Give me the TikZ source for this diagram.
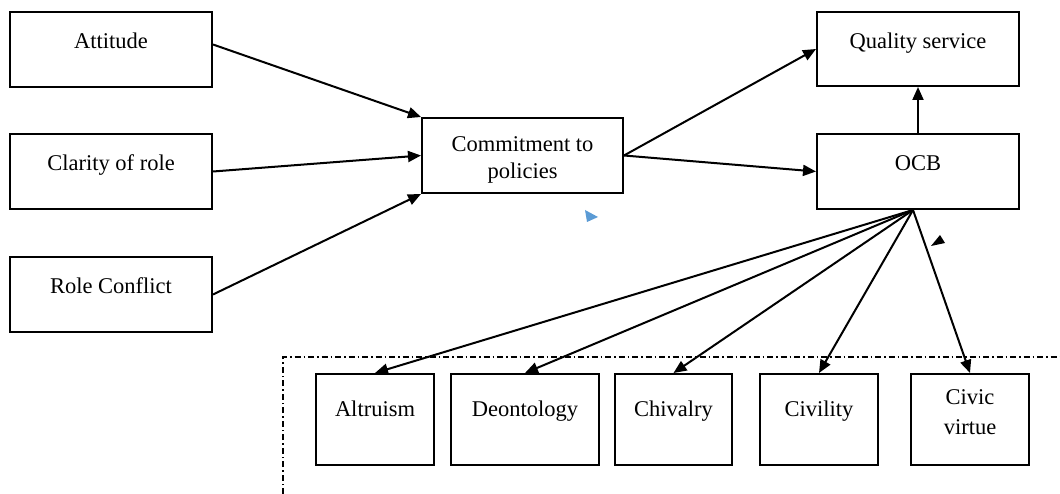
\documentclass[tikz,border=0pt]{standalone}
\usepackage{fontspec}
\setmainfont{Liberation Serif}
\usetikzlibrary{arrows.meta}
\definecolor{markblue}{RGB}{91,155,213}
\tikzset{
  box/.style={draw,line width=2pt,inner sep=0pt,minimum width=202pt,minimum height=75pt},
  leaf/.style={box,minimum width=118pt,minimum height=91pt},
  high/.style={text height=15pt,text depth=16pt},
  higher/.style={text height=15pt,text depth=22pt},
  link/.style={line width=2pt,-{Triangle[length=13pt,width=11pt]}},
}
\begin{document}
\begin{tikzpicture}[x=1pt,y=-1pt,font=\fontsize{22.5}{27}\selectfont]
\useasboundingbox (0,0) rectangle (1060,494);
\node[box,high](att) at (111,49.5){Attitude};
\node[box,high](clar) at (111,171.5){Clarity of role};
\node[box,high](conf) at (111,294.5){Role Conflict};
\node[box,minimum width=201pt,align=center,text height=47pt,text depth=0pt](comm) at (522.5,155.5){Commitment to\\policies};
\node[box,high,minimum height=74pt](qual) at (918,49){Quality service};
\node[box,high](ocb) at (918,171.5){OCB};
\node[leaf,higher](alt) at (375,419.5){Altruism};
\node[leaf,higher,minimum width=148pt](deon) at (525,419.5){Deontology};
\node[leaf,higher,minimum width=117pt](chiv) at (673.5,419.5){Chivalry};
\node[leaf,higher](civil) at (819,419.5){Civility};
\node[leaf,align=center,text height=45pt,text depth=16pt](civic) at (970,419.5){Civic\\[3pt]virtue};
\draw[link]([yshift=5pt]att.east)--(comm.north west);
\draw[link](clar.east)--(comm.west);
\draw[link](conf.east)--(comm.south west);
\draw[link](comm.east)--(qual.west);
\draw[link](comm.east)--(ocb.west);
\draw[link](ocb.north)--(qual.south);
\foreach \leafname in {alt,deon,chiv,civil,civic}
  \draw[link]([xshift=-5pt]ocb.south)--(\leafname.north);
\draw[line width=1.2pt,dash pattern=on 6pt off 3pt on 1.5pt off 3pt](283,494)--(283,357)--(1060,357);
\fill[markblue](585,210)--(598,217)--(587,222)--cycle;
\fill(940,235)--(945,243)--(931,246)--cycle;
\end{tikzpicture}
\end{document}
